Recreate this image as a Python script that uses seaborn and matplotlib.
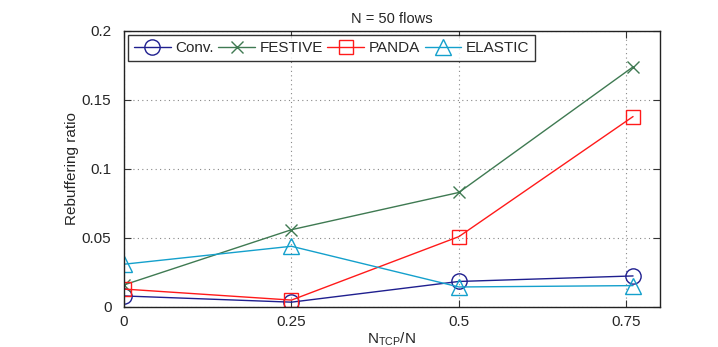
import matplotlib
matplotlib.use("Agg")
import matplotlib.pyplot as plt
import seaborn as sns
import pandas as pd

x_vals = [0, 0.25, 0.5, 0.76]
conv = [0.008, 0.0035, 0.0185, 0.0225]
festive = [0.016, 0.056, 0.083, 0.174]
panda = [0.013, 0.005, 0.051, 0.138]
elastic = [0.031, 0.044, 0.0145, 0.0155]
series_names = ["Conv.", "FESTIVE", "PANDA", "ELASTIC"]
x_ticks = [0, 0.25, 0.5, 0.75]
x_tick_labels = ["0", "0.25", "0.5", "0.75"]
y_ticks = [0, 0.05, 0.1, 0.15, 0.2]
y_tick_labels = ["0", "0.05", "0.1", "0.15", "0.2"]

rows = []
for name, vals in zip(series_names, [conv, festive, panda, elastic]):
    for xv, yv in zip(x_vals, vals):
        rows.append({"x": xv, "y": yv, "series": name})
df = pd.DataFrame(rows)

sns.set_style("ticks")
plt.rcParams['font.family'] = ['Liberation Sans', 'DejaVu Sans']
plt.rcParams['mathtext.fontset'] = 'custom'
plt.rcParams['mathtext.rm'] = 'Liberation Sans'

fig = plt.figure(figsize=(7.18, 3.47), dpi=100)
ax = fig.add_axes([0.1727, 0.1153, 0.919 - 0.1727, 0.9107 - 0.1153])

palette = {"Conv.": "#1f1f8f", "FESTIVE": "#3f7a52", "PANDA": "#ff1a1a", "ELASTIC": "#14a0cc"}
markers = {"Conv.": "o", "FESTIVE": "x", "PANDA": "s", "ELASTIC": "^"}
msizes = {"Conv.": 11, "FESTIVE": 8, "PANDA": 10, "ELASTIC": 11}

for name in series_names:
    sub = df[df.series == name]
    sns.lineplot(data=sub, x="x", y="y", ax=ax, color=palette[name], marker=markers[name],
                 markersize=msizes[name], markerfacecolor="none", markeredgecolor=palette[name],
                 markeredgewidth=1.0, linewidth=1.0, label=name)

ax.set_xlim(0, 0.8)
ax.set_ylim(0, 0.2)
ax.set_xticks(x_ticks)
ax.set_xticklabels(x_tick_labels)
ax.set_yticks(y_ticks)
ax.set_yticklabels(y_tick_labels)
ax.grid(True, linestyle=(0, (1, 3)), color="#888888", linewidth=0.8)
ax.tick_params(direction="in", length=5, labelsize=11, top=True, right=True, color="#333333")
ax.tick_params(axis="y", pad=9)
ax.tick_params(axis="x", pad=6)
for s in ax.spines.values():
    s.set_visible(True)
    s.set_color("#222222")
    s.set_linewidth(1.0)

ax.set_xlabel(r"N$_{\mathrm{TCP}}$/N", fontsize=11, labelpad=1)
ax.set_ylabel("Rebuffering ratio", fontsize=11, labelpad=2)
ax.set_title("N = 50 flows", fontsize=10.5, pad=6)

leg = ax.legend(loc="upper left", ncol=4, fontsize=11, frameon=True, fancybox=False,
                edgecolor="black", handlelength=2.4, columnspacing=0.3, handletextpad=0.3,
                borderpad=0.4, borderaxespad=0.25)
leg.get_frame().set_linewidth(1.0)

fig.savefig("out.png", dpi=100)
